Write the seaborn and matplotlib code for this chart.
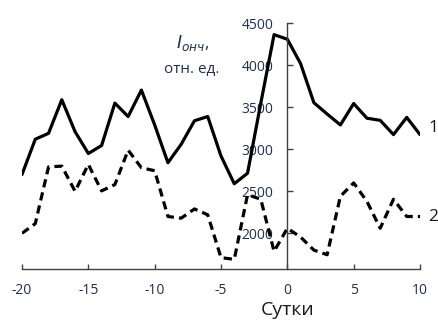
import matplotlib
matplotlib.use("Agg")
import matplotlib.pyplot as plt
import seaborn as sns
import pandas as pd

days = list(range(-20, 11))
series1 = [2700, 3120, 3190, 3590, 3210, 2950, 3045, 3550, 3390, 3705,
           3290, 2840, 3060, 3340, 3390, 2920, 2590, 2715, 3550, 4365,
           4310, 4020, 3555, 3420, 3290, 3545, 3370, 3345, 3175, 3380, 3175]
series2 = [2000, 2115, 2790, 2800, 2500, 2820, 2505, 2580, 2990, 2780,
           2745, 2200, 2180, 2290, 2220, 1710, 1690, 2460, 2405, 1785,
           2060, 1955, 1800, 1745, 2440, 2600, 2380, 2060, 2405, 2200, 2200]
yticks = [2000, 2500, 3000, 3500, 4000, 4500]
xticks = [-20, -15, -10, -5, 0, 5, 10]
series_names = ["1", "2"]

sns.set_theme(style="white")
plt.rcParams['font.family'] = ['Open Sans', 'DejaVu Sans']
plt.rcParams['axes.unicode_minus'] = False

df = pd.DataFrame({
    "day": days * 2,
    "value": series1 + series2,
    "series": [series_names[0]] * len(days) + [series_names[1]] * len(days),
})

fig = plt.figure(figsize=(4.39, 3.20), dpi=100)
ax = fig.add_axes([22 / 439, 1 - 269 / 320, (420 - 22) / 439, (269 - 23.3) / 320])

sns.lineplot(data=df, x="day", y="value", style="series", color="black",
             dashes={"1": "", "2": (2.6, 1.6)}, linewidth=2.3, legend=False, ax=ax)

ax.set_xlim(-20, 10)
ax.set_ylim(1575, 4500)
ax.set_xticks(xticks)
ax.set_yticks(yticks)

tick_color = "#1f2f4f"
ax.spines['left'].set_position(('data', 0))
ax.spines['right'].set_visible(False)
ax.spines['top'].set_visible(False)
for s in ['left', 'bottom']:
    ax.spines[s].set_color('#404040')
    ax.spines[s].set_linewidth(1.0)

ax.tick_params(axis='y', direction='in', length=4.5, width=1, color='#404040',
               labelsize=10, labelcolor=tick_color, pad=10, left=True)
ax.tick_params(axis='x', direction='in', length=3.5, width=1, color='#404040',
               labelsize=10, labelcolor=tick_color, pad=10, bottom=True)
ax.set_xlabel("")
ax.set_ylabel("")

fig.text(288 / 439, 1 - 310 / 320, "Сутки", fontsize=14, color="#1a1a1a",
         ha='center', va='center')

ax.text(10.65, 3255, series_names[0], fontsize=12.5, color="#1a1a1a",
        ha='left', va='center', clip_on=False)
ax.text(10.65, 2195, series_names[1], fontsize=12.5, color="#1a1a1a",
        ha='left', va='center', clip_on=False)

fig.text(193 / 439, 1 - 43 / 320, r"$\mathit{I}_{\mathit{онч}}$,", fontsize=12.5,
         color=tick_color, ha='center', va='center')
fig.text(192 / 439, 1 - 70 / 320, "отн. ед.", fontsize=11, color=tick_color,
         ha='center', va='center')

fig.savefig("out.png", dpi=100)
